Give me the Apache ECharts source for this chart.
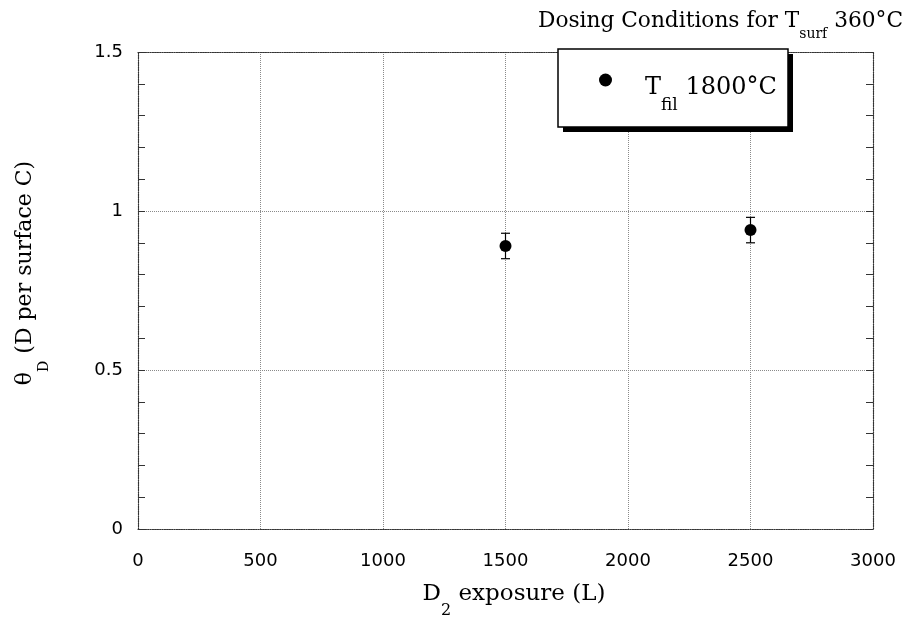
<!DOCTYPE html>
<html>
<head>
<meta charset="utf-8">
<title>Dosing Conditions for Tsurf 360°C</title>
<script src="https://cdn.jsdelivr.net/npm/echarts@6/dist/echarts.min.js"></script>
<style>
  html, body { margin: 0; padding: 0; background: #fff; }
  #main { width: 908px; height: 621px; }
</style>
</head>
<body>
<div id="main"></div>
<script>
// D2 exposure (L)
var exposure = [1500, 2500];
// theta_D (D per surface C) and its error bar ends
var coverage = [0.89, 0.94];
var errLow = [0.85, 0.90];
var errHigh = [0.93, 0.98];

var xRange = [0, 3000];
var xStep = 500;
var yRange = [0, 1.5];
var yStep = 0.5;

// text pieces: [main, subscript, main]
var titleParts = ['Dosing Conditions for T', 'surf', ' 360°C'];
var legendParts = ['T', 'fil', ' 1800°C'];
var xNameParts = ['D', '2', ' exposure (L)'];
var yNameParts = ['θ', 'D', ' (D per surface C)'];

var serif = 'DejaVu Serif';
var frameColor = '#333';
var gridColor = '#8a8a8a';

function sub(parts) {
  return '{a|' + parts[0] + '}{s|' + parts[1] + '}{a|' + parts[2] + '}';
}

var chart = echarts.init(document.getElementById('main'));

var frameLine = { show: true, onZero: false, lineStyle: { color: frameColor, type: 'dotted', width: 1.2 } };
var tickLabel = {
  fontFamily: 'DejaVu Sans', fontSize: 18, color: '#000',
  formatter: function (v) { return String(v); }
};

var option = {
  backgroundColor: '#fff',
  animation: false,
  grid: { left: 138, right: 35, top: 52, bottom: 92 },
  legend: {
    data: [legendParts.join('')],
    left: 599,
    top: 73.5,
    padding: 0,
    z: 10,
    selectedMode: false,
    icon: 'circle',
    itemWidth: 13,
    itemHeight: 13,
    formatter: function () { return sub(legendParts); },
    textStyle: {
      padding: [16, 0, 0, 28],
      rich: {
        a: { fontFamily: serif, fontSize: 24, color: '#000', lineHeight: 52 },
        s: { fontFamily: serif, fontSize: 17, color: '#000', verticalAlign: 'bottom' }
      }
    }
  },
  xAxis: [{
    type: 'value',
    min: xRange[0], max: xRange[1], interval: xStep,
    axisLine: frameLine,
    axisTick: { show: false },
    axisLabel: Object.assign({ margin: 23 }, tickLabel),
    splitLine: { show: true, lineStyle: { color: gridColor, type: 'dotted', width: 1 } }
  }, {
    type: 'value', position: 'top',
    min: xRange[0], max: xRange[1], interval: xStep,
    axisLine: frameLine,
    axisTick: { show: false },
    axisLabel: { show: false },
    splitLine: { show: false }
  }],
  yAxis: [{
    type: 'value',
    min: yRange[0], max: yRange[1], interval: yStep,
    axisLine: frameLine,
    axisTick: { show: true, inside: true, length: 7, lineStyle: { color: frameColor } },
    minorTick: { show: true, splitNumber: 5, length: 7, lineStyle: { color: frameColor } },
    axisLabel: Object.assign({ margin: 15 }, tickLabel),
    splitLine: { show: true, lineStyle: { color: gridColor, type: 'dotted', width: 1 } }
  }, {
    type: 'value', position: 'right',
    min: yRange[0], max: yRange[1], interval: yStep,
    axisLine: frameLine,
    axisTick: { show: true, inside: true, length: 7, lineStyle: { color: frameColor } },
    minorTick: { show: true, splitNumber: 5, length: 7, lineStyle: { color: frameColor } },
    axisLabel: { show: false },
    splitLine: { show: false }
  }],
  graphic: [
    {
      type: 'text', z: 5, x: 903, y: 21,
      style: {
        text: sub(titleParts), align: 'right', verticalAlign: 'middle',
        rich: {
          a: { fontFamily: serif, fontSize: 21.7, fill: '#000', lineHeight: 40 },
          s: { fontFamily: serif, fontSize: 14, fill: '#000', verticalAlign: 'bottom' }
        }
      }
    },
    {
      type: 'text', z: 5, x: 514, y: 594,
      style: {
        text: sub(xNameParts), align: 'center', verticalAlign: 'middle',
        rich: {
          a: { fontFamily: serif, fontSize: 23, fill: '#000', lineHeight: 50 },
          s: { fontFamily: serif, fontSize: 16, fill: '#000', verticalAlign: 'bottom' }
        }
      }
    },
    {
      type: 'text', z: 5, x: 25, y: 273, rotation: Math.PI / 2,
      style: {
        text: sub(yNameParts), align: 'center', verticalAlign: 'middle',
        rich: {
          a: { fontFamily: serif, fontSize: 22, fill: '#000', lineHeight: 52 },
          s: { fontFamily: serif, fontSize: 14, fill: '#000', verticalAlign: 'bottom' }
        }
      }
    },
    // legend box with its drop shadow
    { type: 'rect', z: 6, shape: { x: 563, y: 54, width: 230, height: 78 }, style: { fill: '#000' } },
    { type: 'rect', z: 7, shape: { x: 558, y: 49, width: 230, height: 78 }, style: { fill: '#fff', stroke: '#000', lineWidth: 1.5 } }
  ],
  series: [
    {
      type: 'custom',
      name: 'error',
      z: 2,
      data: exposure.map(function (x, i) { return [x, errLow[i], errHigh[i]]; }),
      encode: { x: 0, y: [1, 2] },
      renderItem: function (params, api) {
        var lo = api.coord([api.value(0), api.value(1)]);
        var hi = api.coord([api.value(0), api.value(2)]);
        var w = 4.5;
        var st = { stroke: '#000', lineWidth: 1.2 };
        return {
          type: 'group',
          children: [
            { type: 'line', shape: { x1: lo[0], y1: lo[1], x2: hi[0], y2: hi[1] }, style: st },
            { type: 'line', shape: { x1: lo[0] - w, y1: lo[1], x2: lo[0] + w, y2: lo[1] }, style: st },
            { type: 'line', shape: { x1: hi[0] - w, y1: hi[1], x2: hi[0] + w, y2: hi[1] }, style: st }
          ]
        };
      }
    },
    {
      type: 'scatter',
      name: legendParts.join(''),
      z: 3,
      symbol: 'circle',
      symbolSize: 12,
      itemStyle: { color: '#000', opacity: 1 },
      data: exposure.map(function (x, i) { return [x, coverage[i]]; })
    }
  ]
};

chart.setOption(option);
</script>
</body>
</html>
